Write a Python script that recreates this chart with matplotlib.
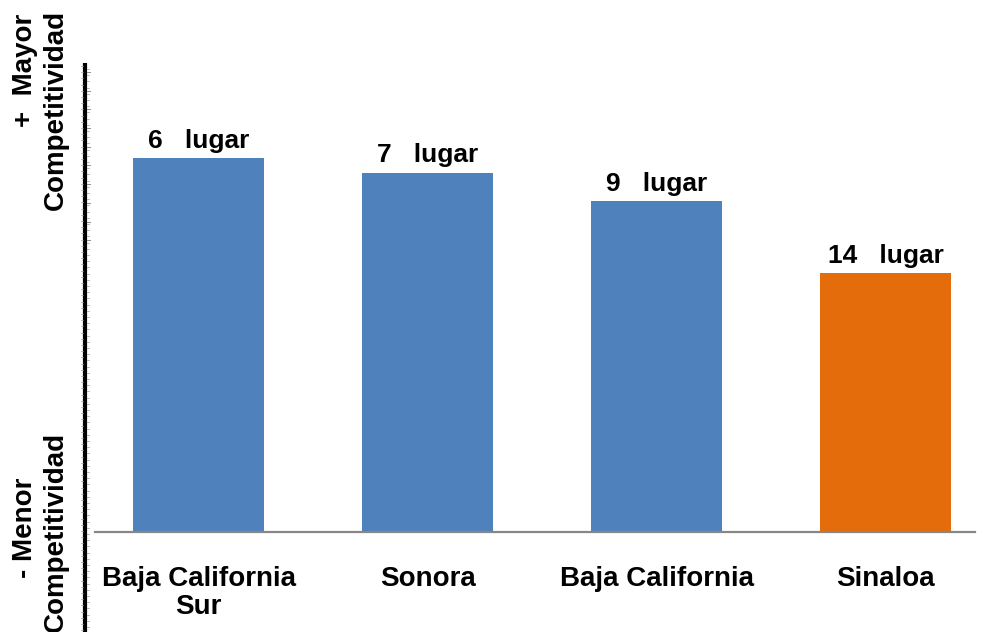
import matplotlib
matplotlib.use("Agg")
import matplotlib.pyplot as plt
from matplotlib.lines import Line2D
import numpy as np

plt.rcParams['font.family'] = ['Liberation Sans', 'DejaVu Sans']

estados = ["Baja California\nSur", "Sonora", "Baja California", "Sinaloa"]
lugares = [6, 7, 9, 14]
puntaje = [26, 25, 23, 18]   # altura relativa de cada barra
colores = ["#4F81BD", "#4F81BD", "#4F81BD", "#E46C0A"]

W, H = 991, 632
fig = plt.figure(figsize=(W / 100, H / 100), dpi=100)


def fx(px):
    return px / W


def fy(py):
    return 1 - py / H


# ejes principales: de x=95 a 975 px, de y=63 a 532 px
ax = fig.add_axes([fx(95), fy(532), fx(975) - fx(95), fy(63) - fy(532)])
x = np.arange(len(estados))
ax.bar(x, puntaje, width=0.572, color=colores, zorder=2)
ax.set_xlim(-0.452, 3.39)
ax.set_ylim(0, (532 - 63) / 14.37)

for s in ["top", "right", "left"]:
    ax.spines[s].set_visible(False)
ax.spines["bottom"].set_color("#878787")
ax.spines["bottom"].set_linewidth(1.6)
ax.set_yticks([])
ax.set_xticks(x)
ax.set_xticklabels(estados, fontsize=20, fontweight="bold", linespacing=1.12)
ax.tick_params(axis="x", length=0, pad=24.5)

for xi, v, l in zip(x, puntaje, lugares):
    ax.annotate(f"{l}   lugar", (xi, v), xytext=(0, 4), textcoords="offset points",
                ha="center", va="bottom", fontsize=19, fontweight="bold")

# linea vertical gruesa a la izquierda
fig.add_artist(Line2D([fx(85), fx(85)], [fy(63), fy(632)], color="black",
                      linewidth=3, solid_capstyle="butt"))
for ty in np.arange(72, 245, 18.7):
    fig.add_artist(Line2D([fx(87), fx(90)], [fy(ty), fy(ty)], color="#777777", linewidth=0.6))
for ty in np.arange(66, 632, 6.2):
    fig.add_artist(Line2D([fx(81), fx(83)], [fy(ty), fy(ty)], color="#999999", linewidth=0.5))
    fig.add_artist(Line2D([fx(87), fx(89)], [fy(ty + 3), fy(ty + 3)], color="#999999", linewidth=0.5))

tk = dict(fontsize=20, fontweight="bold", rotation=90, ha="center")
fig.text(fx(25), fy(14), "+  Mayor", va="top", **tk)
fig.text(fx(56), fy(10), "Competitividad", va="top", **tk)
fig.text(fx(25), fy(528), "- Menor", va="center", **tk)
fig.text(fx(56), fy(432), "Competitividad", va="top", **tk)

fig.savefig("out.png", dpi=100)
